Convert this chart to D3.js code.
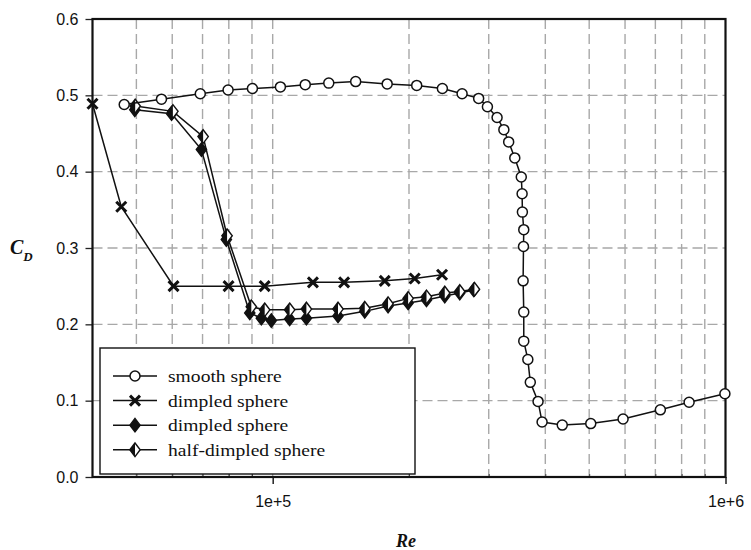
<!DOCTYPE html>
<html lang="en">
<head>
    <meta charset="UTF-8">
    <script src="https://cdnjs.cloudflare.com/ajax/libs/d3/7.9.0/d3.min.js"></script>
    <title>Drag coefficient of spheres</title>
    <style>
        body {
            margin: 0;
            background-color: white;
        }

        svg {
            display: block;
        }

        .tick-label {
            font-family: "Liberation Sans", Arial, sans-serif;
            font-size: 16px;
            fill: #111;
        }

        .legend-text {
            font-family: "Liberation Serif", "Times New Roman", serif;
            font-size: 17.5px;
            fill: #111;
        }

        .axis-title {
            font-family: "Liberation Serif", "Times New Roman", serif;
            font-weight: bold;
            font-style: italic;
            fill: #111;
        }
    </style>
</head>
<body>
    <div id="chart"></div>
    <script>
        const width = 751;
        const height = 550;

        // [Re, CD] pairs
        const smoothSphere = [
            [4.7e4, 0.488], [5.68e4, 0.495], [6.92e4, 0.502], [7.97e4, 0.507],
            [9.02e4, 0.509], [1.04e5, 0.511], [1.18e5, 0.514], [1.33e5, 0.516],
            [1.525e5, 0.518], [1.79e5, 0.515], [2.08e5, 0.513], [2.37e5, 0.509],
            [2.62e5, 0.502], [2.85e5, 0.496], [2.98e5, 0.485], [3.13e5, 0.471],
            [3.24e5, 0.455], [3.32e5, 0.439], [3.425e5, 0.418], [3.54e5, 0.393],
            [3.555e5, 0.371], [3.56e5, 0.347], [3.585e5, 0.324], [3.58e5, 0.302],
            [3.573e5, 0.257], [3.585e5, 0.216], [3.585e5, 0.178], [3.66e5, 0.154],
            [3.706e5, 0.124], [3.855e5, 0.099], [3.935e5, 0.072], [4.36e5, 0.068],
            [5.04e5, 0.070], [5.94e5, 0.076], [7.18e5, 0.088], [8.31e5, 0.098],
            [9.97e5, 0.109]
        ];

        const dimpledCross = [
            [4.0e4, 0.489], [4.63e4, 0.354], [6.04e4, 0.250], [7.99e4, 0.250],
            [9.6e4, 0.250], [1.227e5, 0.255], [1.438e5, 0.255], [1.768e5, 0.257],
            [2.059e5, 0.260], [2.366e5, 0.265]
        ];

        const dimpledDiamond = [
            [4.96e4, 0.481], [5.98e4, 0.476], [6.96e4, 0.429], [7.9e4, 0.311],
            [8.9e4, 0.215], [9.44e4, 0.208], [9.93e4, 0.205], [1.09e5, 0.207],
            [1.187e5, 0.208], [1.394e5, 0.211], [1.597e5, 0.217], [1.798e5, 0.224],
            [1.991e5, 0.228], [2.186e5, 0.232], [2.399e5, 0.237], [2.589e5, 0.241],
            [2.78e5, 0.245]
        ];

        const halfDimpled = [
            [4.97e4, 0.486], [6.02e4, 0.479], [7.02e4, 0.446], [7.93e4, 0.316],
            [8.97e4, 0.223], [9.6e4, 0.219], [1.09e5, 0.219], [1.187e5, 0.220],
            [1.394e5, 0.220], [1.597e5, 0.221], [1.798e5, 0.227], [1.991e5, 0.234],
            [2.186e5, 0.236], [2.399e5, 0.241], [2.589e5, 0.243], [2.79e5, 0.246]
        ];

        const yTicks = [0, 0.1, 0.2, 0.3, 0.4, 0.5, 0.6];
        const xMajorTicks = [1e5, 1e6];
        const xMinorTicks = [5e4, 6e4, 7e4, 8e4, 9e4, 2e5, 3e5, 4e5, 5e5, 6e5, 7e5, 8e5, 9e5];
        const legendLabels = ["smooth sphere", "dimpled sphere", "dimpled sphere", "half-dimpled sphere"];

        const x = d3.scaleLog()
            .domain([4e4, 1e6])
            .range([92.5, 725.5]);

        const y = d3.scaleLinear()
            .domain([0, 0.6])
            .range([477, 19]);

        const svg = d3.select("#chart")
            .append("svg")
            .attr("width", width)
            .attr("height", height);

        // Grid lines (dashed gray)
        const grid = svg.append("g").attr("class", "grid")
            .attr("stroke", "#a8a8a8")
            .attr("stroke-width", 1.4)
            .attr("stroke-dasharray", "10,5");

        grid.selectAll(".vgrid")
            .data(xMinorTicks.concat([1e5]))
            .enter()
            .append("line")
            .attr("x1", d => x(d))
            .attr("x2", d => x(d))
            .attr("y1", y(0.6))
            .attr("y2", y(0));

        grid.selectAll(".hgrid")
            .data(yTicks.slice(1, -1))
            .enter()
            .append("line")
            .attr("x1", x(4e4))
            .attr("x2", x(1e6))
            .attr("y1", d => y(d))
            .attr("y2", d => y(d));

        // Y axis
        const yAxis = d3.axisLeft(y)
            .tickValues(yTicks)
            .tickFormat(d3.format(".1f"))
            .tickSize(7)
            .tickPadding(7);

        const gy = svg.append("g")
            .attr("transform", `translate(${x(4e4)},0)`)
            .call(yAxis);
        gy.select(".domain").remove();
        gy.selectAll(".tick line").attr("stroke", "#222").attr("stroke-width", 1.3);
        gy.selectAll(".tick text").attr("class", "tick-label").attr("font-size", null).attr("font-family", null);

        // X axis, major ticks with labels
        const xAxis = d3.axisBottom(x)
            .tickValues(xMajorTicks)
            .tickFormat(d => d === 1e5 ? "1e+5" : "1e+6")
            .tickSize(7)
            .tickPadding(12);

        const gx = svg.append("g")
            .attr("transform", `translate(0,${y(0)})`)
            .call(xAxis);
        gx.select(".domain").remove();
        gx.selectAll(".tick line").attr("stroke", "#222").attr("stroke-width", 1.5);
        gx.selectAll(".tick text").attr("class", "tick-label").attr("font-size", null).attr("font-family", null);

        // X axis minor ticks (inside)
        const gxMinor = svg.append("g")
            .attr("transform", `translate(0,${y(0)})`)
            .call(d3.axisBottom(x).tickValues(xMinorTicks).tickSize(-3).tickFormat(""));
        gxMinor.select(".domain").remove();
        gxMinor.selectAll(".tick line").attr("stroke", "#444");

        // Plot frame
        svg.append("rect")
            .attr("x", x(4e4))
            .attr("y", y(0.6))
            .attr("width", x(1e6) - x(4e4))
            .attr("height", y(0) - y(0.6))
            .attr("fill", "none")
            .attr("stroke", "#111")
            .attr("stroke-width", 2.2);

        // Series
        const line = d3.line()
            .x(d => x(d[0]))
            .y(d => y(d[1]));

        const crossPath = "M-5,-5L5,5M-5,5L5,-5";
        const diamondPath = "M0,-6.8L5.2,0L0,6.8L-5.2,0Z";
        const halfLeftPath = "M0,-6.8L-5.2,0L0,6.8Z";

        function drawLine(data) {
            svg.append("path")
                .datum(data)
                .attr("fill", "none")
                .attr("stroke", "#111")
                .attr("stroke-width", 1.5)
                .attr("d", line);
        }

        function drawCircles(g, data) {
            g.selectAll("circle")
                .data(data)
                .enter()
                .append("circle")
                .attr("cx", d => x(d[0]))
                .attr("cy", d => y(d[1]))
                .attr("r", 5)
                .attr("fill", "white")
                .attr("stroke", "#111")
                .attr("stroke-width", 1.5);
        }

        function drawCrosses(g, data) {
            g.selectAll("path")
                .data(data)
                .enter()
                .append("path")
                .attr("transform", d => `translate(${x(d[0])},${y(d[1])})`)
                .attr("d", crossPath)
                .attr("stroke", "#111")
                .attr("stroke-width", 3)
                .attr("fill", "none");
        }

        function drawDiamonds(g, data) {
            g.selectAll("path")
                .data(data)
                .enter()
                .append("path")
                .attr("transform", d => `translate(${x(d[0])},${y(d[1])})`)
                .attr("d", diamondPath)
                .attr("fill", "#111")
                .attr("stroke", "#111")
                .attr("stroke-width", 1.3);
        }

        function drawHalfDiamonds(g, data) {
            const m = g.selectAll("g")
                .data(data)
                .enter()
                .append("g")
                .attr("transform", d => `translate(${x(d[0])},${y(d[1])})`);
            m.append("path")
                .attr("d", diamondPath)
                .attr("fill", "white")
                .attr("stroke", "#111")
                .attr("stroke-width", 1.4);
            m.append("path")
                .attr("d", halfLeftPath)
                .attr("fill", "#111");
        }

        drawLine(dimpledCross);
        drawCrosses(svg.append("g"), dimpledCross);

        drawLine(dimpledDiamond);
        drawLine(halfDimpled);
        drawDiamonds(svg.append("g"), dimpledDiamond);
        drawHalfDiamonds(svg.append("g"), halfDimpled);

        drawLine(smoothSphere);
        drawCircles(svg.append("g"), smoothSphere);

        // Legend
        const legend = svg.append("g").attr("transform", "translate(100,348)");
        legend.append("rect")
            .attr("width", 315)
            .attr("height", 126)
            .attr("fill", "white")
            .attr("stroke", "#111")
            .attr("stroke-width", 1.4);

        const rowY = i => 28 + i * 24.6;

        legendLabels.forEach((label, i) => {
            const row = legend.append("g").attr("transform", `translate(0,${rowY(i)})`);
            row.append("line")
                .attr("x1", 13).attr("x2", 57)
                .attr("stroke", "#111").attr("stroke-width", 1.5);
            const mk = row.append("g").attr("transform", "translate(35,0)");
            if (i === 0) {
                mk.append("circle").attr("r", 5).attr("fill", "white")
                    .attr("stroke", "#111").attr("stroke-width", 1.5);
            } else if (i === 1) {
                mk.append("path").attr("d", crossPath).attr("stroke", "#111")
                    .attr("stroke-width", 3);
            } else if (i === 2) {
                mk.append("path").attr("d", diamondPath).attr("fill", "#111")
                    .attr("stroke", "#111").attr("stroke-width", 1.3);
            } else {
                mk.append("path").attr("d", diamondPath).attr("fill", "white")
                    .attr("stroke", "#111").attr("stroke-width", 1.4);
                mk.append("path").attr("d", halfLeftPath).attr("fill", "#111");
            }
            // the source figure's serif text is slightly wider than Times
            row.append("text")
                .attr("class", "legend-text")
                .attr("transform", "translate(68,6) scale(1.12,1)")
                .text(label);
        });

        // Axis titles
        const cd = svg.append("text")
            .attr("class", "axis-title")
            .attr("x", 10)
            .attr("y", 254)
            .attr("font-size", 20);
        cd.append("tspan").text("C");
        cd.append("tspan").attr("font-size", 13).attr("dy", 7).text("D");

        svg.append("text")
            .attr("class", "axis-title")
            .attr("x", 396)
            .attr("y", 547)
            .attr("font-size", 18)
            .text("Re");
    </script>
</body>
</html>
